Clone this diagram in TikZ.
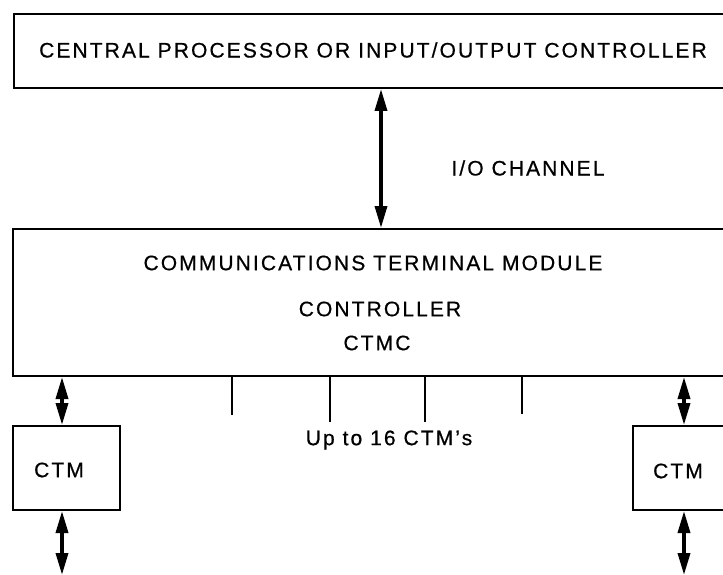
\documentclass[tikz,border=0pt]{standalone}
\usepackage{fontspec}
\setmainfont{Liberation Sans}[LetterSpace=10,FakeBold=0.6]
\usetikzlibrary{arrows.meta}
\begin{document}
\begin{tikzpicture}[x=1pt,y=-1pt,
  box/.style={draw,line width=2pt,inner sep=0pt,anchor=north west},
  lbl/.style={font=\fontsize{21}{24}\selectfont,inner sep=0pt},
  link/.style={line width=3.5pt,{Triangle[length=22pt,width=12pt]}-{Triangle[length=22pt,width=12pt]}},
  tickline/.style={line width=2pt}]
\useasboundingbox (0,0) rectangle (723,575);
\clip (0,0) rectangle (723,575);
% boxes
\node[box, minimum width=730pt, minimum height=74pt] (cpu) at (13,13) {};
\node[box, minimum width=730pt, minimum height=147pt] (ctmc) at (12,228) {};
\node[box, minimum width=107pt, minimum height=84pt] (ctml) at (12,425) {};
\node[box, minimum width=110pt, minimum height=84pt] (ctmr) at (632,425) {};
% texts
\node[lbl] (tcpu) at (373,50) {CENTRAL PROCESSOR OR INPUT/OUTPUT CONTROLLER};
\node[lbl] (tio) at (528,168) {I/O CHANNEL};
\node[lbl] (tctm1) at (373,263) {COMMUNICATIONS TERMINAL MODULE};
\node[lbl] (tctm2) at (380,309) {CONTROLLER};
\node[lbl] (tctm3) at (377,343) {CTMC};
\node[lbl] (tup) at (389,440) {Up to 16 CTM's};
\node[lbl] (tl) at (59,470) {CTM};
\node[lbl] (tr) at (678,471) {CTM};
% helper coordinates
\coordinate (xio) at (381,0);
\coordinate (xl) at (62,0);
\coordinate (xr) at (684,0);
\coordinate (bl) at (62,575);
\coordinate (br) at (684,575);
\coordinate (k1) at (232,0);
\coordinate (k2) at (330,0);
\coordinate (k3) at (425,0);
\coordinate (k4) at (522,0);
% connectors
\draw[link] (cpu.south -| xio) -- (ctmc.north -| xio);
\draw[link] (ctmc.south -| xl) -- (ctml.north -| xl);
\draw[link] (ctmc.south -| xr) -- (ctmr.north -| xr);
\draw[link] (ctml.south -| bl) -- (bl);
\draw[link] (ctmr.south -| br) -- (br);
\draw[tickline] (ctmc.south -| k1) -- ++(0,38);
\draw[tickline] (ctmc.south -| k2) -- ++(0,45);
\draw[tickline] (ctmc.south -| k3) -- ++(0,45);
\draw[tickline] (ctmc.south -| k4) -- ++(0,37);
\end{tikzpicture}
\end{document}
